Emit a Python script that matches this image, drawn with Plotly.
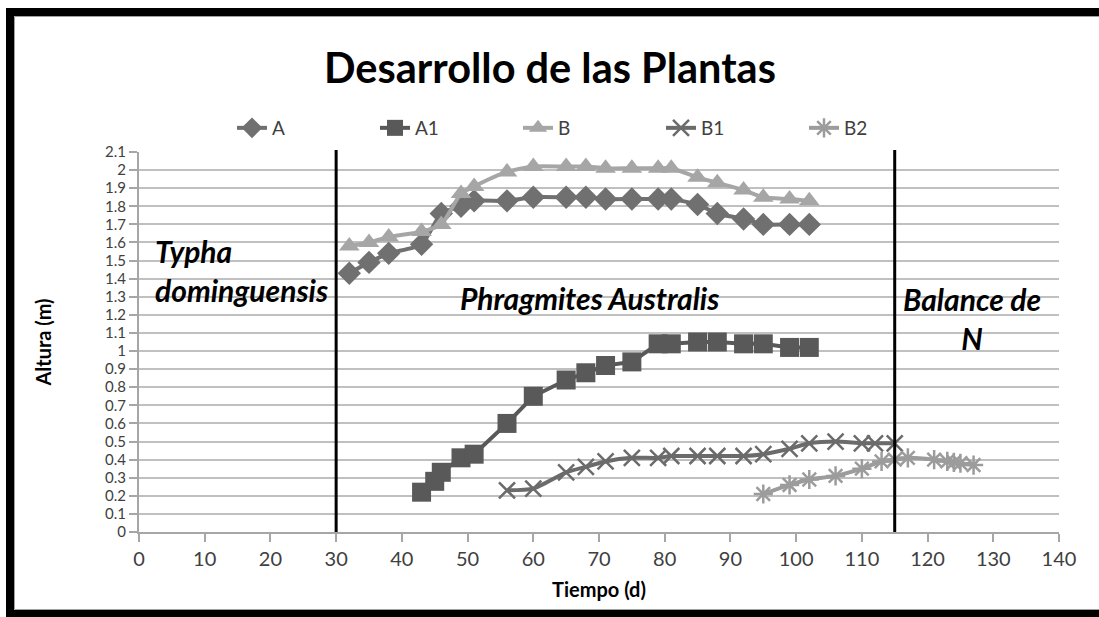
import plotly.graph_objects as go

# ---------------- data ----------------
a_x = [32, 35, 38, 43, 46, 49, 51, 56, 60, 65, 68, 71, 75, 79, 81, 85, 88, 92, 95, 99, 102]
a_y = [1.43, 1.49, 1.54, 1.59, 1.76, 1.80, 1.83, 1.83, 1.85, 1.85, 1.85, 1.84, 1.84, 1.84, 1.84,
       1.81, 1.76, 1.73, 1.70, 1.70, 1.70]

a1_x = [43, 45, 46, 49, 51, 56, 60, 65, 68, 71, 75, 79, 81, 85, 88, 92, 95, 99, 102]
a1_y = [0.22, 0.28, 0.33, 0.41, 0.43, 0.60, 0.75, 0.84, 0.88, 0.92, 0.94, 1.04, 1.04, 1.05, 1.05,
        1.04, 1.04, 1.02, 1.02]

b_x = [32, 35, 38, 43, 46, 49, 51, 56, 60, 65, 68, 71, 75, 79, 81, 85, 88, 92, 95, 99, 102]
b_y = [1.58, 1.60, 1.63, 1.66, 1.70, 1.87, 1.91, 1.99, 2.02, 2.02, 2.02, 2.01, 2.01, 2.01, 2.01,
       1.96, 1.93, 1.89, 1.85, 1.84, 1.83]

b1_x = [56, 60, 65, 68, 71, 75, 79, 81, 85, 88, 92, 95, 99, 102, 106, 110, 112, 115]
b1_y = [0.23, 0.24, 0.33, 0.36, 0.39, 0.41, 0.41, 0.42, 0.42, 0.42, 0.42, 0.43, 0.46, 0.49,
        0.50, 0.49, 0.49, 0.49]

b2_x = [95, 99, 102, 106, 110, 113, 115, 117, 121, 123, 124, 125, 127]
b2_y = [0.21, 0.26, 0.29, 0.31, 0.35, 0.39, 0.40, 0.41, 0.40, 0.39, 0.385, 0.38, 0.37]

x_ticks = [0, 10, 20, 30, 40, 50, 60, 70, 80, 90, 100, 110, 120, 130, 140]
y_ticks = [0, 0.1, 0.2, 0.3, 0.4, 0.5, 0.6, 0.7, 0.8, 0.9, 1.0, 1.1, 1.2, 1.3, 1.4, 1.5,
           1.6, 1.7, 1.8, 1.9, 2.0, 2.1]
y_tick_labels = ["0", "0.1", "0.2", "0.3", "0.4", "0.5", "0.6", "0.7", "0.8", "0.9", "1",
                 "1.1", "1.2", "1.3", "1.4", "1.5", "1.6", "1.7", "1.8", "1.9", "2", "2.1"]

stage_bounds = [30, 115]

FONT = "Lato"
FIG_W, FIG_H = 1099, 617

fig = go.Figure()

def add(name, xs, ys, color, symbol, size, shape="spline", mline=0):
    fig.add_trace(go.Scatter(
        x=xs, y=ys, name=name, mode="lines+markers",
        line=dict(color=color, width=4, shape=shape, smoothing=0.6 if shape == "spline" else None),
        marker=dict(symbol=symbol, size=size, color=color,
                    line=dict(color=color, width=mline)),
    ))

add("A", a_x, a_y, "#707070", "diamond", 18)
add("A1", a1_x, a1_y, "#595959", "square", 19, shape="linear")
add("B", b_x, b_y, "#a6a6a6", "triangle-up", 18)
add("B1", b1_x, b1_y, "#6b6b6b", "x-thin-open", 16, mline=2.5)
add("B2", b2_x, b2_y, "#9c9c9c", "asterisk-open", 16, mline=2.5)

# plot area in page pixels
L, R, T, B = 139, 1059, 152, 532
W, H = R - L, B - T

def px(xp):
    return (xp - L) / W

def py(yp):
    return (B - yp) / H

shapes = []
for xb in stage_bounds:
    shapes.append(dict(type="line", xref="x", yref="paper", x0=xb, x1=xb, y0=0, y1=1.005,
                       line=dict(color="black", width=3)))
# outer black frame (left, top, bottom) plus thin grey inner line
shapes += [
    dict(type="rect", xref="paper", yref="paper", x0=px(6), x1=px(14), y0=py(630), y1=py(8),
         fillcolor="black", line=dict(width=0)),
    dict(type="rect", xref="paper", yref="paper", x0=px(6), x1=px(1120), y0=py(16), y1=py(8),
         fillcolor="black", line=dict(width=0)),
    dict(type="rect", xref="paper", yref="paper", x0=px(6), x1=px(1120), y0=py(630), y1=py(610),
         fillcolor="black", line=dict(width=0)),
    dict(type="line", xref="paper", yref="paper", x0=px(14.5), x1=px(1120), y0=py(16.5), y1=py(16.5),
         line=dict(color="#a0a0a0", width=1)),
    dict(type="line", xref="paper", yref="paper", x0=px(14.5), x1=px(14.5), y0=py(16.5), y1=py(609.5),
         line=dict(color="#a0a0a0", width=1)),
    dict(type="line", xref="paper", yref="paper", x0=px(14.5), x1=px(1120), y0=py(609.5), y1=py(609.5),
         line=dict(color="#a0a0a0", width=1)),
]

ann_font = dict(family=FONT, size=30, color="black")
annotations = [
    dict(x=2.1, y=1.447, xref="x", yref="y", text="<b><i>Typha<br>dominguensis</i></b>",
         showarrow=False, xanchor="left", yanchor="middle", align="left", font=ann_font),
    dict(x=68.6, y=1.293, xref="x", yref="y", text="<b><i>Phragmites Australis</i></b>",
         showarrow=False, xanchor="center", yanchor="middle", font=ann_font),
    dict(x=126.8, y=1.182, xref="x", yref="y", text="<b><i>Balance de<br>N</i></b>",
         showarrow=False, xanchor="center", yanchor="middle", align="center", font=ann_font),
]

fig.update_layout(
    width=FIG_W, height=FIG_H,
    margin=dict(l=L, r=FIG_W - R, t=T, b=FIG_H - B),
    paper_bgcolor="white", plot_bgcolor="white",
    font=dict(family=FONT, color="#404040"),
    title=dict(text="<b>Desarrollo de las Plantas</b>", x=550 / FIG_W, xref="container",
               y=1 - 68 / FIG_H, yref="container", yanchor="middle", xanchor="center",
               font=dict(family=FONT, size=41.5, color="black")),
    legend=dict(orientation="h", x=px(232), y=py(128), xanchor="left", yanchor="middle",
                entrywidth=98, entrywidthmode="pixels",
                font=dict(family=FONT, size=19, color="#404040"), bgcolor="rgba(0,0,0,0)"),
    shapes=shapes,
    annotations=annotations,
    showlegend=True,
)

fig.update_xaxes(range=[0, 140], tickvals=x_ticks, ticktext=[str(v) for v in x_ticks],
                 showgrid=False, zeroline=False, showline=True, linecolor="#a6a6a6", linewidth=2,
                 ticks="outside", ticklen=8, tickcolor="#a6a6a6", tickwidth=2,
                 tickfont=dict(family=FONT, size=20, color="#404040"),
                 title=dict(text="<b>Tiempo (d)</b>", standoff=14,
                            font=dict(family=FONT, size=20, color="black")))
fig.update_yaxes(range=[0, 2.1], tickvals=y_ticks, ticktext=y_tick_labels,
                 showgrid=True, gridcolor="#c0c0c0", gridwidth=2, zeroline=False,
                 showline=True, linecolor="#a6a6a6", linewidth=2,
                 ticks="outside", ticklen=8, tickcolor="#a6a6a6", tickwidth=2,
                 tickfont=dict(family=FONT, size=15, color="#404040"),
                 title=dict(text="<b>Altura (m)</b>", standoff=48,
                            font=dict(family=FONT, size=20, color="black")))

fig.write_html(
    "out.html",
    config={"displayModeBar": False},
    post_script="document.body.style.margin='0';document.body.style.overflow='hidden';"
                "document.documentElement.style.overflow='hidden';",
)
